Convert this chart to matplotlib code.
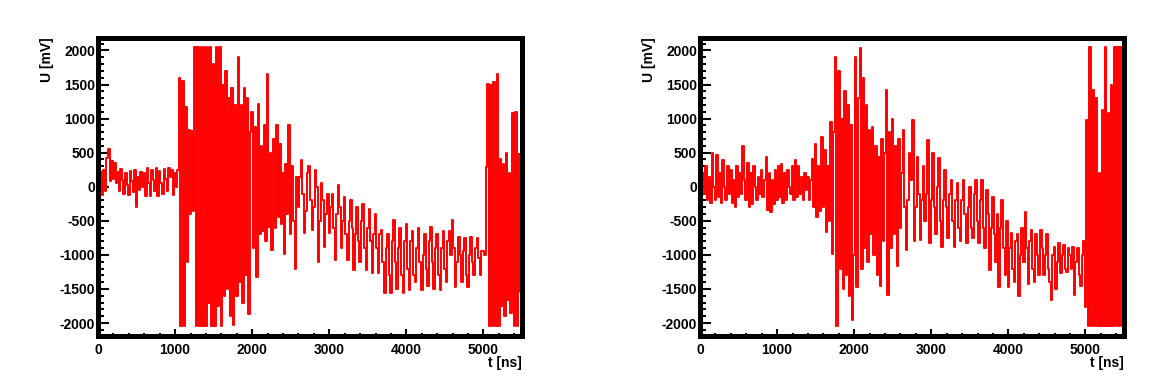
import numpy as np
import matplotlib
matplotlib.use("Agg")
import matplotlib.pyplot as plt
from matplotlib.ticker import MultipleLocator

plt.rcParams["axes.unicode_minus"] = False

# sample spacing of the waveforms (ns)
dt_ns = 20

# left waveform, U [mV], one value every 20 ns from t = 0
left_u = [
    0, -180, 220, -120, 250, -60, 420, 560, 80, 380,
    120, 350, 50, 220, -60, 260, 100, -100, 200, 20,
    -120, 230, 80, -80, 250, -290, 150, -50, 220, 0,
    200, -130, 270, 60, -140, 240, 100, -60, 280, -130,
    230, 60, -100, 260, 120, -60, 280, 150, 250, -120,
    200, 0, 250, 1590, -2048, 1550, -2048, 1170, -1100, 830,
    -400, 820, -350, 2047, -2048, 2047, -2048, 2047, -2048, 2047,
    -2048, 2047, -1700, 2047, -2048, 1800, -2048, 2047, -1750, 2047,
    -2048, 1500, -1600, 1700, -1500, 1300, -1900, 1450, -2030, 1200,
    -1600, 1900, -1400, 1200, -1700, 1450, -1300, 1300, -1860, 800,
    1100, -900, 880, -1320, 1220, -700, 600, -650, 900, -800,
    1660, -590, 500, -930, 700, -600, 900, -450, 630, -540,
    200, -980, 340, -400, 900, -700, 300, -500, -1200, 150,
    -300, 150, 390, -100, -685, -350, 200, 300, -200, -640,
    -300, 245, 0, -1100, -500, 50, -200, -880, -400, -100,
    -685, -300, -100, -600, -1075, -400, 25, -300, -900, -500,
    -150, -700, -1075, -500, -195, -600, -1220, -700, -300, -800,
    -1100, -500, -250, -900, -1220, -600, -320, -800, -1270, -700,
    -400, -900, -1270, -700, -635, -1100, -1560, -900, -700, -1300,
    -1560, -800, -490, -1100, -1500, -900, -600, -1300, -1560, -800,
    -540, -1200, -1515, -800, -650, -1300, -1400, -900, -600, -1100,
    -1515, -1000, -700, -1200, -1450, -800, -590, -1100, -1500, -900,
    -700, -1300, -1515, -900, -650, -1200, -1400, -800, -650, -1000,
    -490, -900, -1470, -1100, -730, -1000, -1400, -950, -750, -1300,
    -1470, -1000, -730, -1100, -1300, -900, -750, -1050, -1300, -950,
    -950, -1000, 290, 1515, -2048, 1490, -2048, 1540, -2048, 1660,
    -2048, 400, -1750, 340, -1900, 490, -1660, 200, -1850, 1075,
    -2048, 1100, -2048, 480, -1550, 200,
]

# right waveform, U [mV], one value every 20 ns from t = 0
right_u = [
    100, -245, 195, -100, 300, -200, 150, -240, 490, 0,
    -200, 460, -150, 200, -245, 390, 0, -200, 300, -100,
    250, -240, 100, -300, 300, -150, 200, -100, 600, 100,
    -200, 350, -300, 200, -250, 300, 0, -200, 150, -100,
    250, -150, 100, 440, -340, 200, -370, 100, -250, 250,
    -200, 300, -150, 340, -245, 200, -200, 250, 0, -100,
    300, -200, 390, -150, 300, -100, 150, -200, 200, -50,
    150, -195, 100, 400, -300, 630, -440, 300, -350, 730,
    -300, 540, -660, 300, -500, 950, -980, 800, 1900, -2048,
    1700, -1200, 1000, -1500, 1400, -1300, 1200, -1600, 900, -1950,
    -1000, 1900, -1470, 1300, 2030, -1200, 1600, -900, 1200, -1100,
    830, -700, 880, -1000, 600, -1300, 440, -1460, 700, -800,
    500, 1420, -1590, 800, -900, 1000, -700, 600, -1170, 700,
    -600, 200, 830, -300, -930, -200, 500, 100, 980, -800,
    -300, 440, -100, -780, -200, 300, -500, -100, 680, -830,
    -200, 500, -300, -700, 0, 420, -500, -880, -200, 240,
    -300, -750, -100, 100, -500, -880, -200, 50, -600, -800,
    -200, 100, -400, -830, -300, 0, -600, -750, -100, 100,
    -500, -830, -200, 100, -600, -900, -50, -400, -1220, -600,
    -150, -700, -1100, -400, -1470, -600, -200, -900, -1300, -500,
    -1470, -900, -680, -1200, -1400, -800, -700, -1610, -1000, -600,
    -1100, -365, -900, -1420, -800, -640, -1200, -1400, -700, -1000,
    -1300, -640, -900, -1300, -1000, -700, -1200, -1400, -1660, -1000,
    -880, -1500, -1100, -830, -1270, -1000, -850, -1200, -1250, -900,
    -1000, -1200, -880, -1590, -1100, -900, -1300, -1450, -1000, -800,
    -1760, 980, -2048, 2047, -2048, 1420, -2048, 1300, -2048, 200,
    -2048, 1130, -2048, 2047, -2048, 1075, -2048, 1490, -2048, 2047,
    -2048, 2047, -2048, 2047, -2048, 2047,
]

x_label = "t [ns]"
y_label = "U [mV]"
x_range = (0, 5500)
y_range = (-2190, 2190)

W, H = 1153, 384
fig = plt.figure(figsize=(W / 100, H / 100), dpi=100)
fig.patch.set_facecolor("white")

font = dict(family=["Liberation Sans", "DejaVu Sans"], weight="bold", size=10)

panels = [(98 / W, left_u), (700 / W, right_u)]
ax_w = 424 / W
ax_b = 1 - 336 / H
ax_h = 298.5 / H

for left, series in panels:
    ax = fig.add_axes([left, ax_b, ax_w, ax_h])
    t = np.arange(len(series)) * dt_ns
    ax.plot(t, series, color="#ff0000", lw=1.4, drawstyle="steps-mid")
    ax.set_xlim(*x_range)
    ax.set_ylim(*y_range)
    for sp in ax.spines.values():
        sp.set_linewidth(3.6)
        sp.set_color("black")
    ax.xaxis.set_major_locator(MultipleLocator(1000))
    ax.xaxis.set_minor_locator(MultipleLocator(200))
    ax.yaxis.set_major_locator(MultipleLocator(500))
    ax.yaxis.set_minor_locator(MultipleLocator(100))
    ax.tick_params(axis="both", which="both", direction="in",
                   top=False, right=False, color="black")
    ax.tick_params(axis="y", which="major", length=8, width=1.5, pad=2)
    ax.tick_params(axis="y", which="minor", length=4, width=1.5)
    ax.tick_params(axis="x", which="major", length=5, width=1.5, pad=5)
    ax.tick_params(axis="x", which="minor", length=2.5, width=1.5)
    for lab in ax.get_xticklabels() + ax.get_yticklabels():
        lab.set_fontfamily(font["family"])
        lab.set_fontweight("bold")
        lab.set_fontsize(font["size"])
    ax.text(-0.12, 1.0, y_label, transform=ax.transAxes, rotation=90,
            ha="center", va="top", **font)
    ax.text(1.0, -0.09, x_label, transform=ax.transAxes,
            ha="right", va="center", **font)

fig.savefig("out.png", dpi=100, facecolor="white")
